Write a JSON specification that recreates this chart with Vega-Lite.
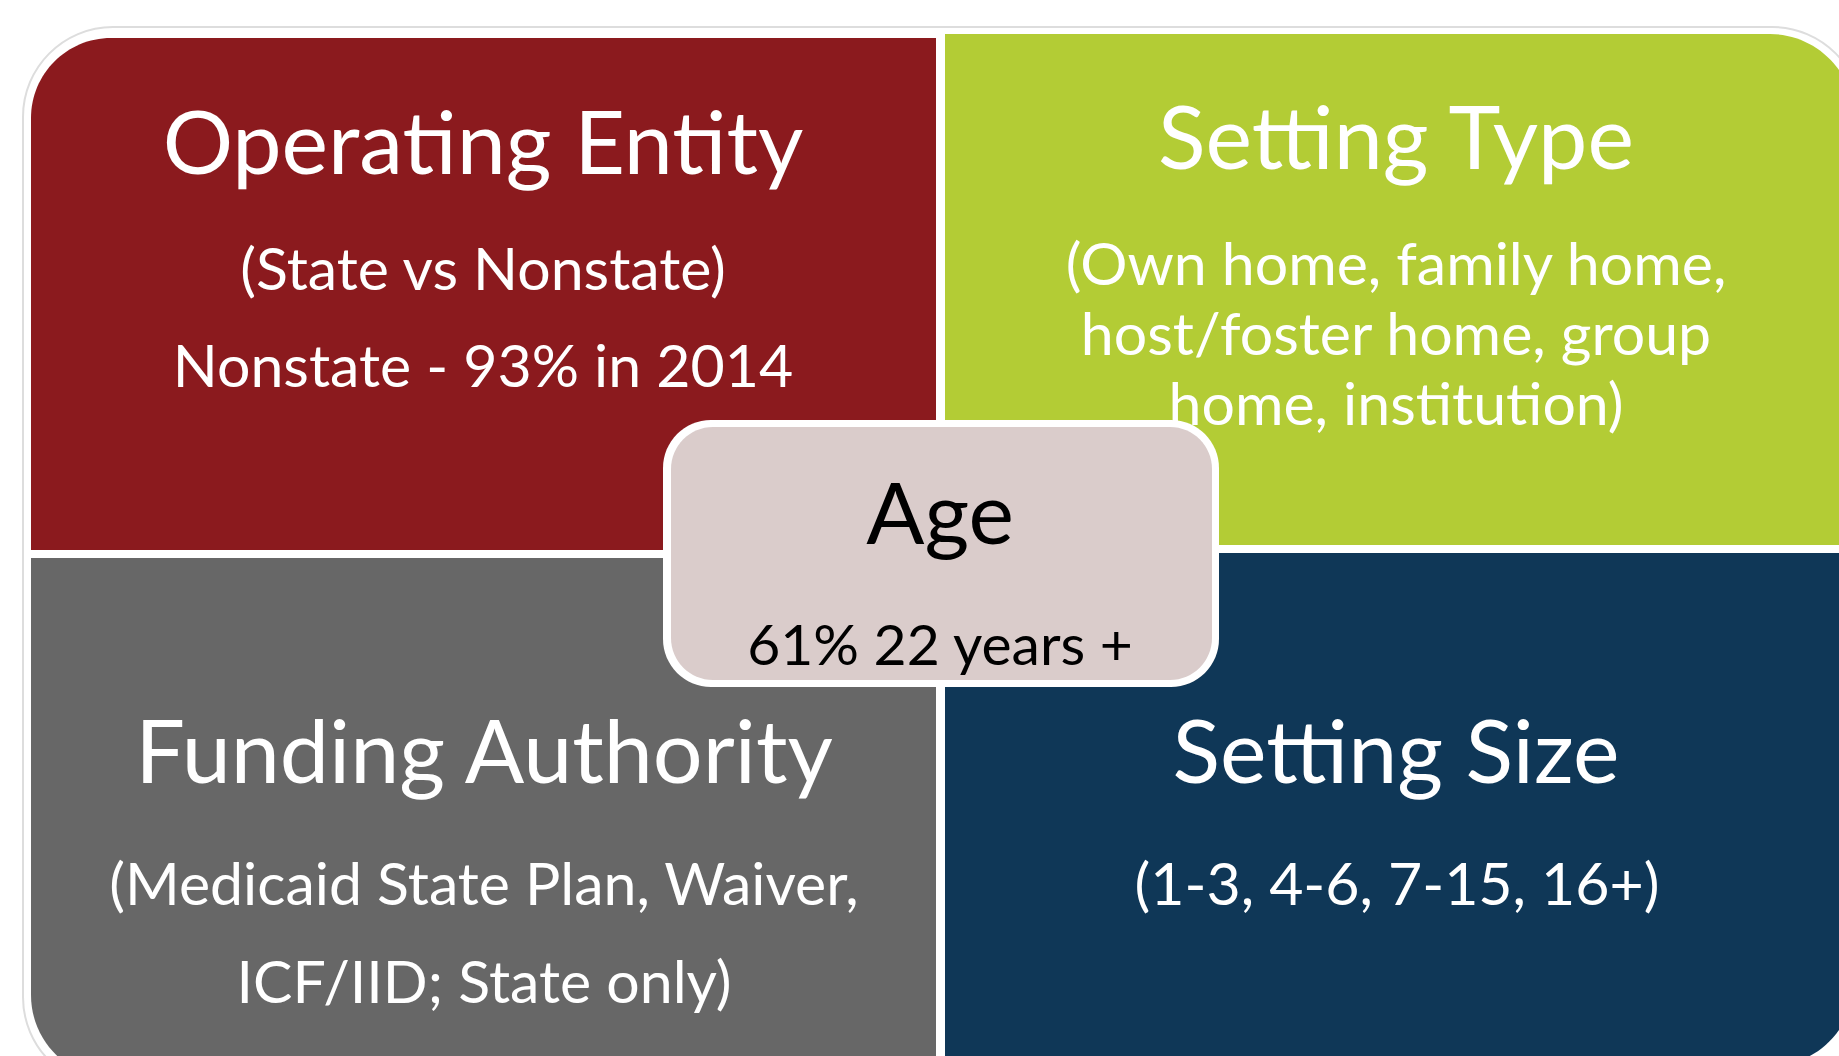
{
  "$schema": "https://vega.github.io/schema/vega-lite/v6.json",
  "width": 1839,
  "height": 1056,
  "autosize": "none",
  "padding": 0,
  "background": "white",
  "config": {"view": {"stroke": null}},
  "datasets": {
    "panels": [
      {"name": "Operating Entity", "x": 31, "x2": 936, "y": 38, "y2": 550},
      {"name": "Setting Type", "x": 945, "x2": 1854, "y": 34, "y2": 545},
      {"name": "Funding Authority", "x": 31, "x2": 936, "y": 558, "y2": 1079},
      {"name": "Setting Size", "x": 945, "x2": 1854, "y": 553, "y2": 1066}
    ],
    "frame": [{"x": 23, "x2": 1862, "y": 27, "y2": 1087}],
    "agebox": [{"x": 663, "x2": 1219, "y": 420, "y2": 687, "ix": 671, "ix2": 1212, "iy": 427, "iy2": 680}],
    "labels": [
      {"text": "Operating Entity", "x": 483, "y": 174, "kind": "title"},
      {"text": "(State vs Nonstate)", "x": 483, "y": 290, "kind": "body"},
      {"text": "Nonstate - 93% in 2014", "x": 483, "y": 387, "kind": "body"},
      {"text": "Setting Type", "x": 1396, "y": 169, "kind": "title"},
      {"text": "(Own home, family home,", "x": 1396, "y": 285, "kind": "body"},
      {"text": "host/foster home, group", "x": 1396, "y": 355, "kind": "body"},
      {"text": "home, institution)", "x": 1396, "y": 425, "kind": "body"},
      {"text": "Funding Authority", "x": 484, "y": 783, "kind": "title"},
      {"text": "(Medicaid State Plan, Waiver,", "x": 484, "y": 905, "kind": "body"},
      {"text": "ICF/IID; State only)", "x": 484, "y": 1003, "kind": "body"},
      {"text": "Setting Size", "x": 1396, "y": 783, "kind": "title"},
      {"text": "(1-3, 4-6, 7-15, 16+)", "x": 1397, "y": 905, "kind": "body"},
      {"text": "Age", "x": 940, "y": 544, "kind": "agetitle"},
      {"text": "61% 22 years +", "x": 940, "y": 665, "kind": "agebody"}
    ]
  },
  "encoding": {
    "x": {"field": "x", "type": "quantitative", "scale": {"domain": [0, 1839], "nice": false, "zero": false}, "axis": null},
    "y": {"field": "y", "type": "quantitative", "scale": {"domain": [0, 1056], "nice": false, "zero": false, "reverse": true}, "axis": null}
  },
  "layer": [
    {
      "data": {"name": "frame"},
      "mark": {"type": "rect", "color": "white", "stroke": "#dddddd", "strokeWidth": 2, "cornerRadius": 90},
      "encoding": {"x2": {"field": "x2"}, "y2": {"field": "y2"}}
    },
    {
      "data": {"name": "panels"},
      "transform": [{"filter": "datum.name == 'Operating Entity'"}],
      "mark": {"type": "rect", "color": "#8B1A1E", "cornerRadiusTopLeft": 80},
      "encoding": {"x2": {"field": "x2"}, "y2": {"field": "y2"}}
    },
    {
      "data": {"name": "panels"},
      "transform": [{"filter": "datum.name == 'Setting Type'"}],
      "mark": {"type": "rect", "color": "#B3CC35", "cornerRadiusTopRight": 84},
      "encoding": {"x2": {"field": "x2"}, "y2": {"field": "y2"}}
    },
    {
      "data": {"name": "panels"},
      "transform": [{"filter": "datum.name == 'Funding Authority'"}],
      "mark": {"type": "rect", "color": "#676767", "cornerRadiusBottomLeft": 84},
      "encoding": {"x2": {"field": "x2"}, "y2": {"field": "y2"}}
    },
    {
      "data": {"name": "panels"},
      "transform": [{"filter": "datum.name == 'Setting Size'"}],
      "mark": {"type": "rect", "color": "#0F3757", "cornerRadiusBottomRight": 84},
      "encoding": {"x2": {"field": "x2"}, "y2": {"field": "y2"}}
    },
    {
      "data": {"name": "labels"},
      "transform": [{"filter": "datum.kind == 'title'"}],
      "mark": {"type": "text", "color": "white", "font": "Lato", "fontSize": 88, "fontVariant": "no-common-ligatures", "align": "center", "baseline": "alphabetic"},
      "encoding": {"text": {"field": "text"}}
    },
    {
      "data": {"name": "labels"},
      "transform": [{"filter": "datum.kind == 'body'"}],
      "mark": {"type": "text", "color": "white", "font": "Lato", "fontSize": 59, "fontVariant": "no-common-ligatures", "align": "center", "baseline": "alphabetic"},
      "encoding": {"text": {"field": "text"}}
    },
    {
      "data": {"name": "agebox"},
      "mark": {"type": "rect", "color": "black", "opacity": 0.25, "cornerRadius": 48, "xOffset": 4, "yOffset": 6},
      "encoding": {"x2": {"field": "x2"}, "y2": {"field": "y2"}}
    },
    {
      "data": {"name": "agebox"},
      "mark": {"type": "rect", "color": "white", "cornerRadius": 48},
      "encoding": {"x2": {"field": "x2"}, "y2": {"field": "y2"}}
    },
    {
      "data": {"name": "agebox"},
      "mark": {"type": "rect", "color": "#DACCCB", "cornerRadius": 42},
      "encoding": {"x": {"field": "ix", "type": "quantitative"}, "x2": {"field": "ix2"}, "y": {"field": "iy", "type": "quantitative"}, "y2": {"field": "iy2"}}
    },
    {
      "data": {"name": "labels"},
      "transform": [{"filter": "datum.kind == 'agetitle'"}],
      "mark": {"type": "text", "color": "black", "font": "Lato", "fontSize": 86, "align": "center", "baseline": "alphabetic"},
      "encoding": {"text": {"field": "text"}}
    },
    {
      "data": {"name": "labels"},
      "transform": [{"filter": "datum.kind == 'agebody'"}],
      "mark": {"type": "text", "color": "black", "font": "Lato", "fontSize": 57, "align": "center", "baseline": "alphabetic"},
      "encoding": {"text": {"field": "text"}}
    }
  ]
}
